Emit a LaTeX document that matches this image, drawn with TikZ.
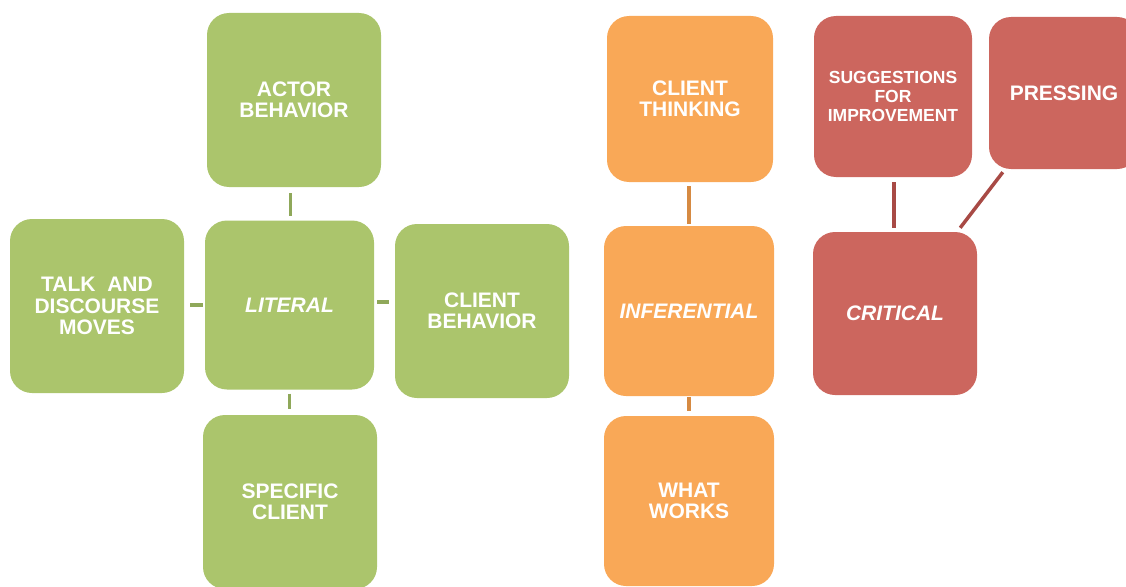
\documentclass[tikz,border=0pt]{standalone}
\usepackage{fontspec}
\setmainfont{Liberation Sans}
\definecolor{gfill}{HTML}{ABC56C}
\definecolor{ofill}{HTML}{F9A857}
\definecolor{rfill}{HTML}{CC665E}
\definecolor{gline}{HTML}{8FA85A}
\definecolor{oline}{HTML}{D68A42}
\definecolor{rline}{HTML}{A84A45}
\tikzset{
  box/.style={rectangle, rounded corners=22pt, inner sep=0pt, align=center, text=white,
    font=\fontsize{21}{21.5}\selectfont\bfseries},
  gbox/.style={box, fill=gfill},
  obox/.style={box, fill=ofill},
  rbox/.style={box, fill=rfill},
  itl/.style={font=\fontsize{21}{21.5}\selectfont\bfseries\itshape},
  conn/.style={line width=3.5pt},
}
\begin{document}
\begin{tikzpicture}[x=1pt,y=-1pt]
\useasboundingbox (0,0) rectangle (1126,586);
\clip (0,0) rectangle (1126,586);
% green
\node[gbox, minimum width=174pt, minimum height=174pt] (act) at (294,100) {ACTOR\\BEHAVIOR};
\node[gbox, itl, minimum width=169pt, minimum height=169pt] (lit) at (289.5,305) {LITERAL};
\node[gbox, minimum width=174pt, minimum height=174pt] (talk) at (97,306) {TALK\ \ AND\\DISCOURSE\\MOVES};
\node[gbox, minimum width=174pt, minimum height=174pt] (cb) at (482,311) {CLIENT\\BEHAVIOR};
\node[gbox, minimum width=174pt, minimum height=174pt] (spec) at (290,502) {SPECIFIC\\CLIENT};
% orange
\node[obox, minimum width=166pt, minimum height=166pt] (ct) at (690,99) {CLIENT\\THINKING};
\node[obox, itl, minimum width=170pt, minimum height=170pt] (inf) at (689,311) {INFERENTIAL};
\node[obox, minimum width=170pt, minimum height=170pt] (ww) at (689,501) {WHAT\\WORKS};
% red
\node[rbox, minimum width=158pt, minimum height=161pt, font=\fontsize{17.5}{19}\selectfont\bfseries] (sug) at (893,96.5) {SUGGESTIONS\\FOR\\IMPROVEMENT};
\node[rbox, minimum width=150pt, minimum height=152pt] (press) at (1064,93) {PRESSING};
\node[rbox, itl, minimum width=164pt, minimum height=163pt] (crit) at (895,313.5) {CRITICAL};
% connectors
\draw[conn, gline, shorten <=6pt, shorten >=4pt] ([xshift=1pt]lit.north |- act.south) -- ([xshift=1pt]lit.north);
\draw[conn, gline, shorten <=6pt, shorten >=2pt] (lit.west -| talk.east) -- (lit.west);
\draw[conn, gline, shorten <=3pt, shorten >=6pt] ([yshift=3pt]lit.east) -- ([yshift=3pt]lit.east -| cb.west);
\draw[conn, gline, shorten <=4pt, shorten >=6pt] (lit.south) -- (lit.south |- spec.north);
\draw[conn, oline, shorten <=4pt, shorten >=2pt] (ct.south -| inf.north) -- (inf.north);
\draw[conn, oline, shorten <=1pt, shorten >=5pt] (inf.south) -- (ww.north);
\draw[conn, rline, shorten <=5pt, shorten >=4pt] ([xshift=1pt]sug.south) -- ([xshift=1pt]sug.south |- crit.north);
\draw[conn, rline] ([shift={(14,3)}]press.south west) -- ([shift={(-17,-4)}]crit.north east);
\end{tikzpicture}
\end{document}
